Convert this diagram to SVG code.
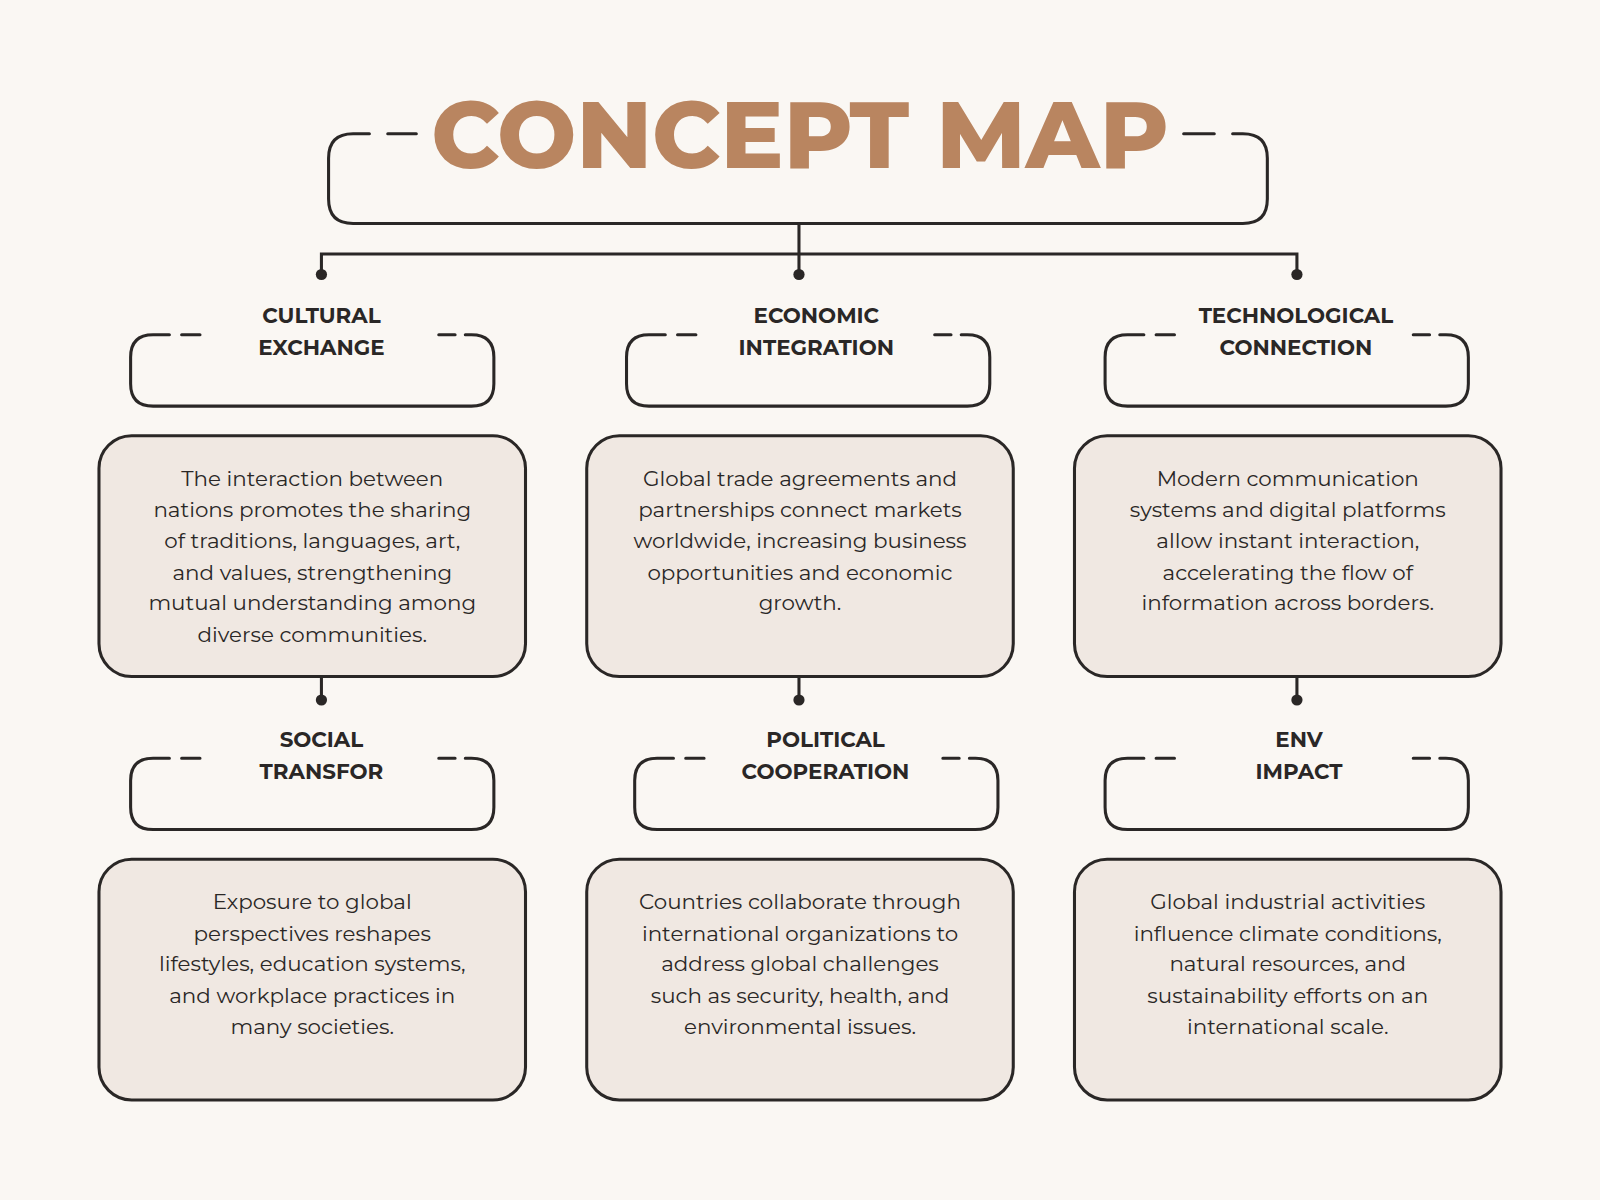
<svg xmlns="http://www.w3.org/2000/svg" width="1600" height="1200" viewBox="0 0 1600 1200">
<style>
.ln{fill:none;stroke:#2a2726;stroke-width:3;stroke-linecap:round}
.box{fill:#F0E8E2;stroke:#2a2726;stroke-width:3}
.ttl{font-family:Montserrat,Inter,"Open Sans",sans-serif;font-weight:800;font-size:92px;fill:#B98560;text-anchor:middle}
.lab{font-family:Montserrat,Inter,"Open Sans",sans-serif;font-weight:700;font-size:21px;fill:#2a2726;text-anchor:middle}
.txt{font-family:Montserrat,Inter,"Open Sans",sans-serif;font-size:21px;fill:#2a2726;text-anchor:middle}
.dot{fill:#2a2726}
</style>
<rect width="1600" height="1200" fill="#FAF7F3"/>
<g transform="scale(1.0204)">
<g id="title">
<path class="ln" d="M408 131H380M362 131H346Q322 131 322 155V195Q322 219 346 219H1218Q1242 219 1242 195V155Q1242 131 1218 131H1208M1190 131H1160"/>
<text class="ttl" x="784" y="165">CONCEPT MAP</text>
</g>
<g id="connectors">
<path class="ln" d="M783 219V249M315 269V249H1271V269M783 249V269M315 663V686M783 663V686M1271 663V686"/>
<circle class="dot" cx="315" cy="269" r="5.5"/><circle class="dot" cx="783" cy="269" r="5.5"/><circle class="dot" cx="1271" cy="269" r="5.5"/>
<circle class="dot" cx="315" cy="686" r="5.5"/><circle class="dot" cx="783" cy="686" r="5.5"/><circle class="dot" cx="1271" cy="686" r="5.5"/>
</g>
<g id="cultural">
<path class="ln" d="M196 328H178M166 328H150Q128 328 128 350V376Q128 398 150 398H462Q484 398 484 376V350Q484 328 462 328H456M446 328H430"/>
<text class="lab" x="315" y="317">CULTURAL</text><text class="lab" x="315" y="348">EXCHANGE</text>
</g>
<g id="economic">
<path class="ln" d="M682 328H664M652 328H636Q614 328 614 350V376Q614 398 636 398H948Q970 398 970 376V350Q970 328 948 328H942M932 328H916"/>
<text class="lab" x="800" y="317">ECONOMIC</text><text class="lab" x="800" y="348">INTEGRATION</text>
</g>
<g id="technological">
<path class="ln" d="M1151 328H1133M1121 328H1105Q1083 328 1083 350V376Q1083 398 1105 398H1417Q1439 398 1439 376V350Q1439 328 1417 328H1411M1401 328H1385"/>
<text class="lab" x="1270" y="317">TECHNOLOGICAL</text><text class="lab" x="1270" y="348">CONNECTION</text>
</g>
<g id="social">
<path class="ln" d="M196 743H178M166 743H150Q128 743 128 765V791Q128 813 150 813H462Q484 813 484 791V765Q484 743 462 743H456M446 743H430"/>
<text class="lab" x="315" y="732">SOCIAL</text><text class="lab" x="315" y="763">TRANSFOR</text>
</g>
<g id="political">
<path class="ln" d="M690 743H672M660 743H644Q622 743 622 765V791Q622 813 644 813H956Q978 813 978 791V765Q978 743 956 743H950M940 743H924"/>
<text class="lab" x="809" y="732">POLITICAL</text><text class="lab" x="809" y="763">COOPERATION</text>
</g>
<g id="env">
<path class="ln" d="M1151 743H1133M1121 743H1105Q1083 743 1083 765V791Q1083 813 1105 813H1417Q1439 813 1439 791V765Q1439 743 1417 743H1411M1401 743H1385"/>
<text class="lab" x="1273" y="732">ENV</text><text class="lab" x="1273" y="763">IMPACT</text>
</g>
<g id="desc-cultural">
<rect class="box" x="97" y="427" width="418" height="236" rx="32"/>
<text class="txt" x="306" y="476">The interaction between</text>
<text class="txt" x="306" y="507">nations promotes the sharing</text>
<text class="txt" x="306" y="537">of traditions, languages, art,</text>
<text class="txt" x="306" y="568">and values, strengthening</text>
<text class="txt" x="306" y="598">mutual understanding among</text>
<text class="txt" x="306" y="629">diverse communities.</text>
</g>
<g id="desc-economic">
<rect class="box" x="575" y="427" width="418" height="236" rx="32"/>
<text class="txt" x="784" y="476">Global trade agreements and</text>
<text class="txt" x="784" y="507">partnerships connect markets</text>
<text class="txt" x="784" y="537">worldwide, increasing business</text>
<text class="txt" x="784" y="568">opportunities and economic</text>
<text class="txt" x="784" y="598">growth.</text>
</g>
<g id="desc-technological">
<rect class="box" x="1053" y="427" width="418" height="236" rx="32"/>
<text class="txt" x="1262" y="476">Modern communication</text>
<text class="txt" x="1262" y="507">systems and digital platforms</text>
<text class="txt" x="1262" y="537">allow instant interaction,</text>
<text class="txt" x="1262" y="568">accelerating the flow of</text>
<text class="txt" x="1262" y="598">information across borders.</text>
</g>
<g id="desc-social">
<rect class="box" x="97" y="842" width="418" height="236" rx="32"/>
<text class="txt" x="306" y="891">Exposure to global</text>
<text class="txt" x="306" y="922">perspectives reshapes</text>
<text class="txt" x="306" y="952">lifestyles, education systems,</text>
<text class="txt" x="306" y="983">and workplace practices in</text>
<text class="txt" x="306" y="1013">many societies.</text>
</g>
<g id="desc-political">
<rect class="box" x="575" y="842" width="418" height="236" rx="32"/>
<text class="txt" x="784" y="891">Countries collaborate through</text>
<text class="txt" x="784" y="922">international organizations to</text>
<text class="txt" x="784" y="952">address global challenges</text>
<text class="txt" x="784" y="983">such as security, health, and</text>
<text class="txt" x="784" y="1013">environmental issues.</text>
</g>
<g id="desc-env">
<rect class="box" x="1053" y="842" width="418" height="236" rx="32"/>
<text class="txt" x="1262" y="891">Global industrial activities</text>
<text class="txt" x="1262" y="922">influence climate conditions,</text>
<text class="txt" x="1262" y="952">natural resources, and</text>
<text class="txt" x="1262" y="983">sustainability efforts on an</text>
<text class="txt" x="1262" y="1013">international scale.</text>
</g>
</g>
</svg>
